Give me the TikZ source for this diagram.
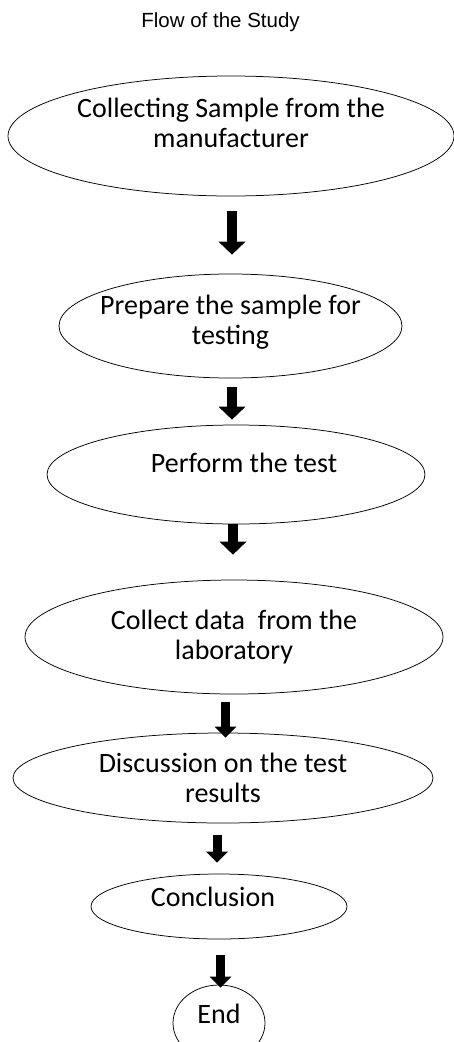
\documentclass[tikz,border=0pt]{standalone}
\usepackage{fontspec}
\setmainfont{Carlito}
\newfontfamily\titlefont{Liberation Sans}
\usetikzlibrary{shapes.geometric,arrows.meta}
\tikzset{
  stage/.style={ellipse, draw, line width=0.75pt, inner xsep=-15pt, inner ysep=-5pt, align=center, font=\fontsize{28}{30}\selectfont},
  flowarrow/.style={line width=10pt, -{Triangle[width=27pt,length=13pt,line width=0pt]}},
  smallarrow/.style={line width=9pt, -{Triangle[width=22pt,length=11pt,line width=0pt]}}
}
\begin{document}
\begin{tikzpicture}[x=1pt, y=-1pt]
  \useasboundingbox (0,0) rectangle (454,1042);
  \node[font=\titlefont\fontsize{20.5}{24}\selectfont, anchor=base] at (220.5,27) (title) {Flow of the Study};
  % Stages
  \node[stage, minimum width=446pt, minimum height=120pt, text depth=27pt] at (231,136) (collect) {Collecting Sample from the\\manufacturer};
  \node[stage, minimum width=343pt, minimum height=104pt, text depth=13pt] at (230.5,326) (prepare) {Prepare the sample for\\testing};
  \node[stage, minimum width=378pt, minimum height=99pt, text depth=24pt] at (236,474.5) (perform) {\hspace*{16pt}Perform the test};
  \node[stage, minimum width=418pt, minimum height=114pt] at (234,637) (data) {Collect data\ \ from the\\laboratory};
  \node[stage, minimum width=420pt, minimum height=90pt] at (223,778) (discuss) {Discussion on the test\\results};
  \node[stage, minimum width=256pt, minimum height=65pt, text depth=20pt] at (219,906.5) (conclude) {Conclusion\hspace*{12pt}};
  \node[stage, minimum width=92pt, minimum height=76pt, text depth=18pt] at (219,1023) (end) {End};
  % Arrows
  \draw[flowarrow, shorten <=15pt, shorten >=19pt] ([xshift=1pt]collect.south) -- ([xshift=1pt]collect.south |- prepare.north);
  \draw[flowarrow, shorten <=9pt, shorten >=5pt] ([xshift=1.5pt]prepare.south) -- ([xshift=1.5pt]prepare.south |- perform.north);
  \draw[flowarrow, shorten >=25pt] ([xshift=-3pt]perform.south) -- ([xshift=-3pt]perform.south |- data.north);
  \draw[smallarrow, shorten <=8pt, shorten >=-5pt] ([xshift=-8.5pt]data.south) -- ([xshift=-8.5pt]data.south |- discuss.north);
  \draw[smallarrow, shorten <=12pt, shorten >=11pt] ([xshift=-6pt]discuss.south) -- ([xshift=-6pt]discuss.south |- conclude.north);
  \draw[smallarrow, shorten <=16pt, shorten >=-3pt] ([xshift=1.5pt]conclude.south) -- ([xshift=1.5pt]conclude.south |- end.north);
\end{tikzpicture}
\end{document}
